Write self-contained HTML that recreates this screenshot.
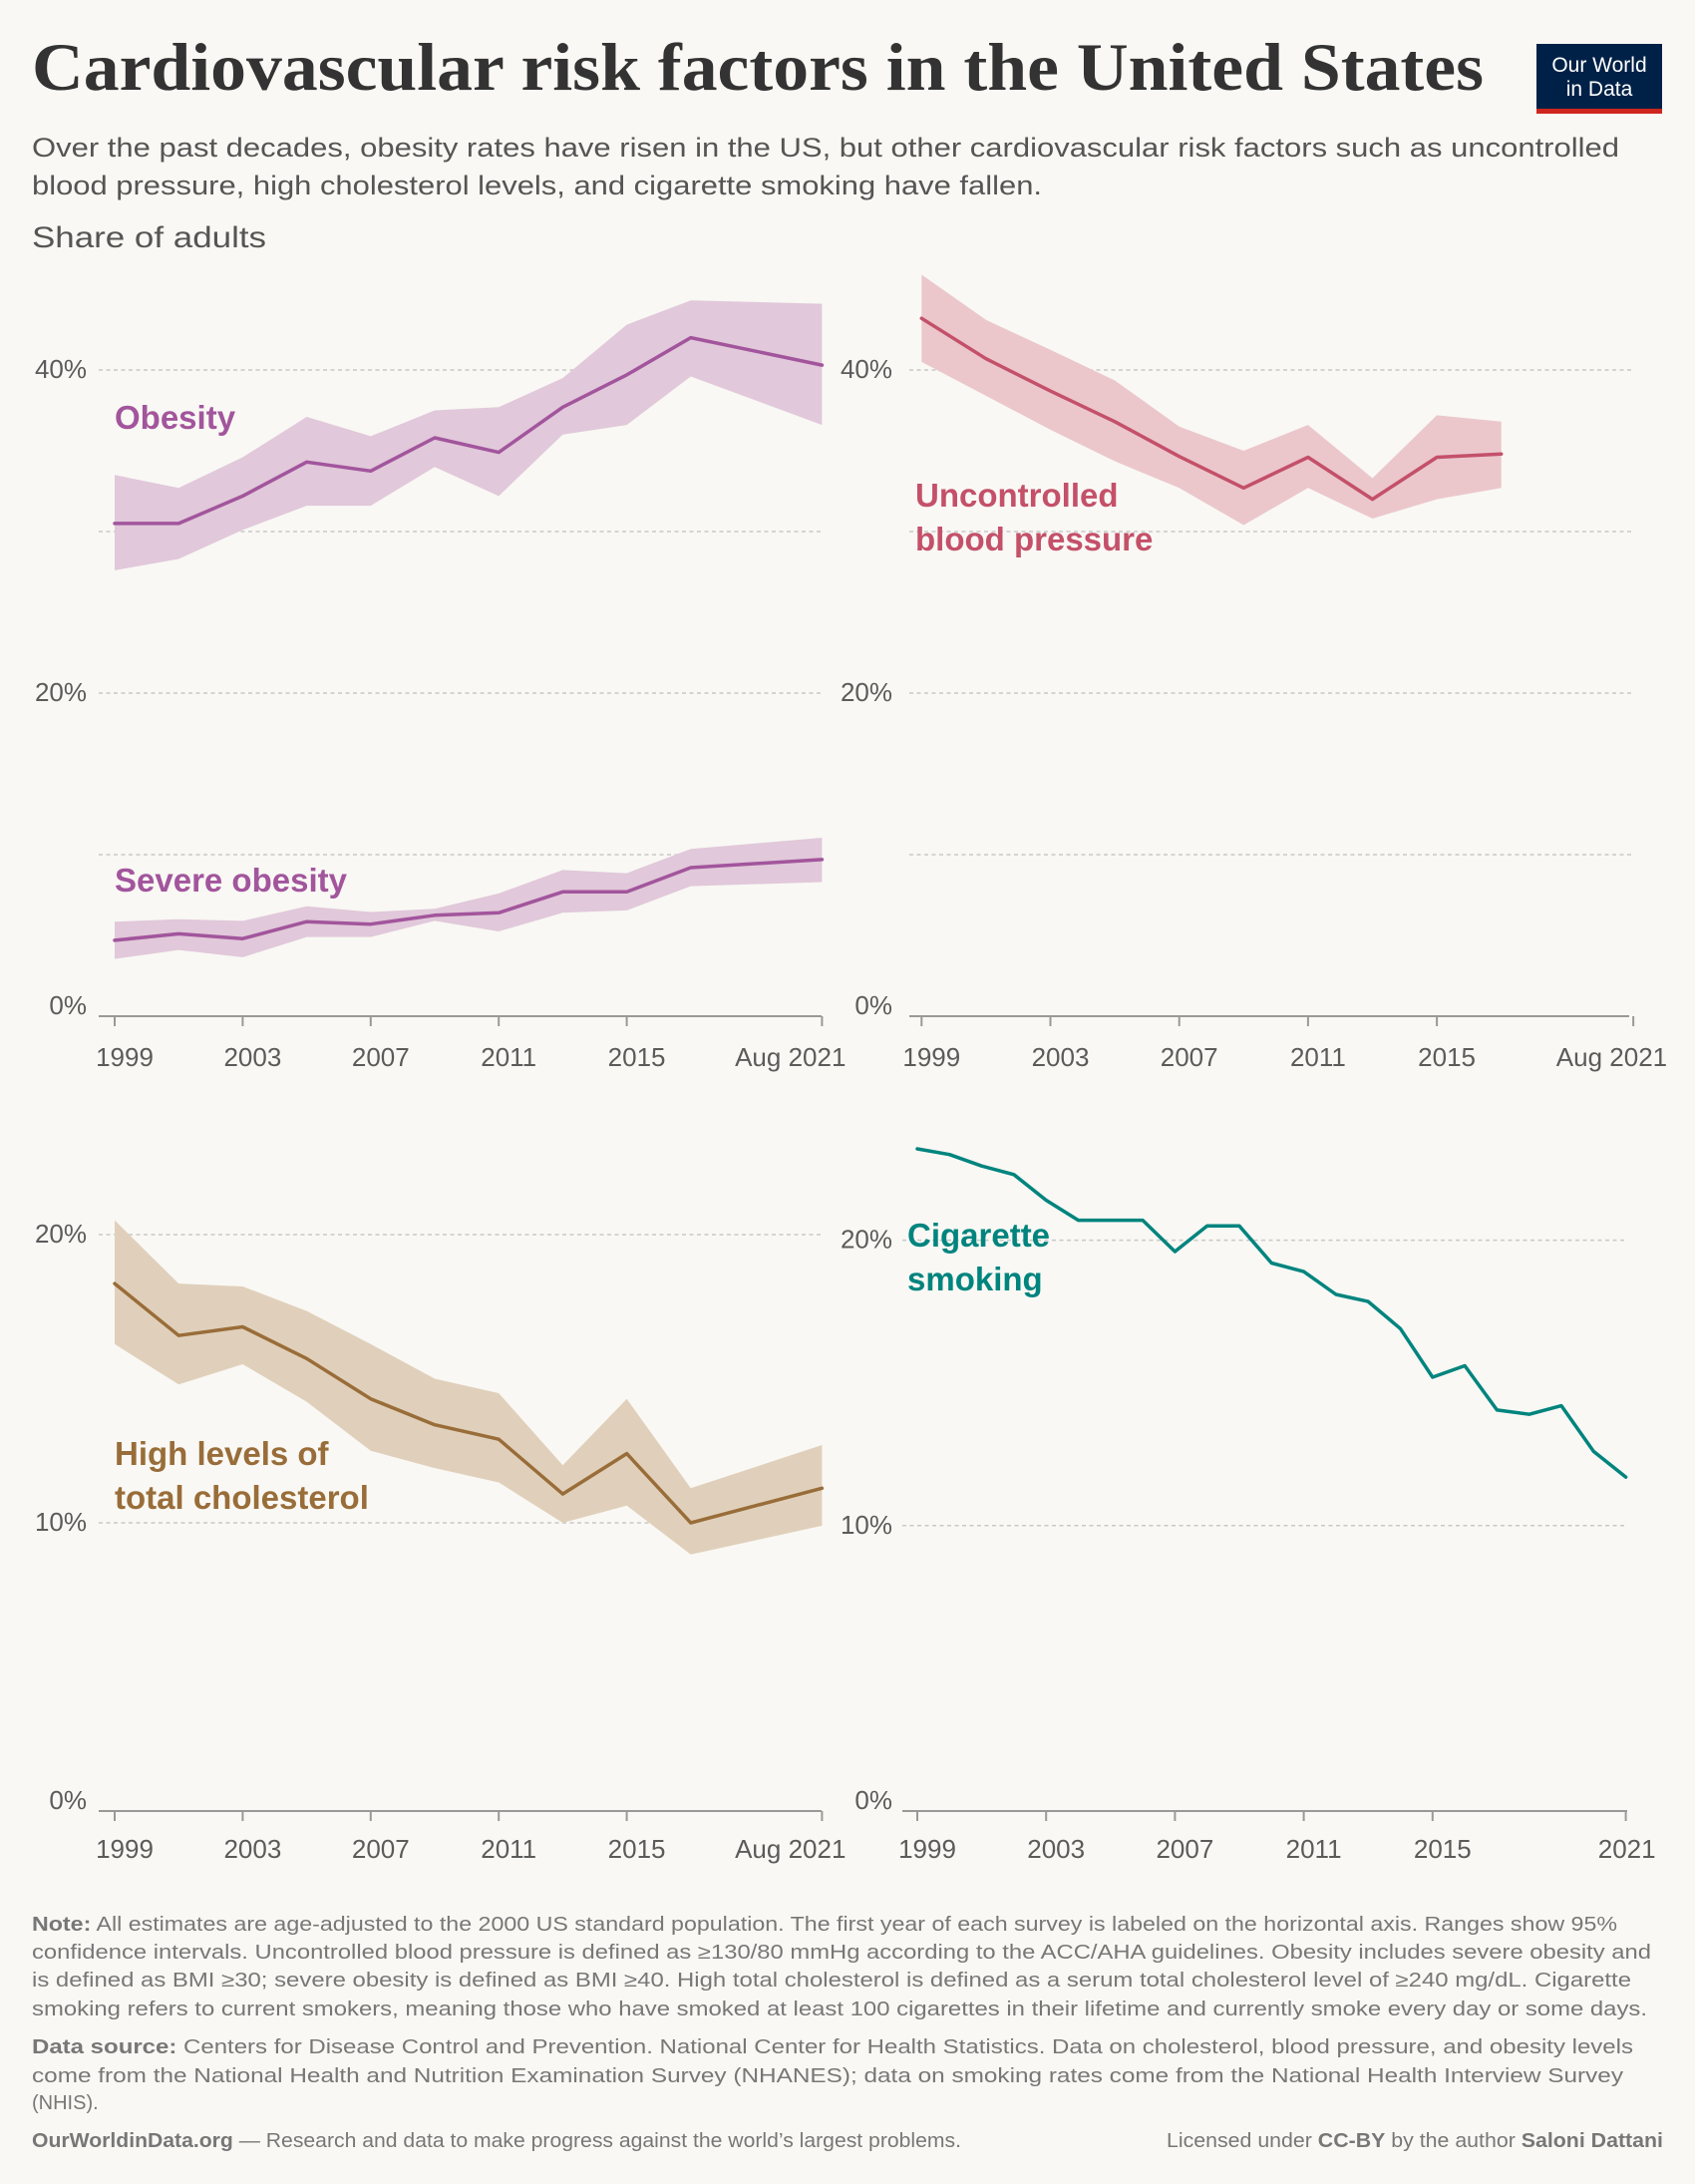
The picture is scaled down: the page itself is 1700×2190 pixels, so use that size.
<!DOCTYPE html>
<html><head><meta charset="utf-8">
<style>
html,body{margin:0;padding:0;background:#f9f8f4;}
svg{display:block;font-family:"Liberation Sans",sans-serif;}
</style></head>
<body>
<svg id="chart" width="1700" height="2190" viewBox="0 0 1700 2190" xmlns="http://www.w3.org/2000/svg">
<rect width="1700" height="2190" fill="#f9f8f4"/>
<text x="32" y="90" font-family="Liberation Serif, serif" font-weight="bold" font-size="68" fill="#333" textLength="1456" lengthAdjust="spacingAndGlyphs">Cardiovascular risk factors in the United States</text>
<g>
<rect x="1541" y="44" width="126" height="70" fill="#002147"/>
<rect x="1541" y="109" width="126" height="5" fill="#ce261e"/>
<text x="1604" y="72" text-anchor="middle" font-size="21" fill="#fff">Our World</text>
<text x="1604" y="96" text-anchor="middle" font-size="21" fill="#fff">in Data</text>
</g>
<text x="32" y="157" font-size="27" fill="#555" textLength="1592" lengthAdjust="spacingAndGlyphs">Over the past decades, obesity rates have risen in the US, but other cardiovascular risk factors such as uncontrolled</text>
<text x="32" y="195" font-size="27" fill="#555" textLength="1013" lengthAdjust="spacingAndGlyphs">blood pressure, high cholesterol levels, and cigarette smoking have fallen.</text>
<text x="32" y="248" font-size="30" fill="#555" textLength="235" lengthAdjust="spacingAndGlyphs">Share of adults</text>
<g id="plots"></g>
<g font-size="20" fill="#777">
<text x="32" y="1936" textLength="1590" lengthAdjust="spacingAndGlyphs"><tspan font-weight="bold">Note:</tspan> All estimates are age-adjusted to the 2000 US standard population. The first year of each survey is labeled on the horizontal axis. Ranges show 95%</text>
<text x="32" y="1964" textLength="1624" lengthAdjust="spacingAndGlyphs">confidence intervals. Uncontrolled blood pressure is defined as ≥130/80 mmHg according to the ACC/AHA guidelines. Obesity includes severe obesity and</text>
<text x="32" y="1992" textLength="1604" lengthAdjust="spacingAndGlyphs">is defined as BMI ≥30; severe obesity is defined as BMI ≥40. High total cholesterol is defined as a serum total cholesterol level of ≥240 mg/dL. Cigarette</text>
<text x="32" y="2021" textLength="1620" lengthAdjust="spacingAndGlyphs">smoking refers to current smokers, meaning those who have smoked at least 100 cigarettes in their lifetime and currently smoke every day or some days.</text>
<text x="32" y="2059" textLength="1606" lengthAdjust="spacingAndGlyphs"><tspan font-weight="bold">Data source:</tspan> Centers for Disease Control and Prevention. National Center for Health Statistics. Data on cholesterol, blood pressure, and obesity levels</text>
<text x="32" y="2088" textLength="1596" lengthAdjust="spacingAndGlyphs">come from the National Health and Nutrition Examination Survey (NHANES); data on smoking rates come from the National Health Interview Survey</text>
<text x="32" y="2115">(NHIS).</text>
<text x="32" y="2153" textLength="932" lengthAdjust="spacingAndGlyphs"><tspan font-weight="bold">OurWorldinData.org</tspan> — Research and data to make progress against the world’s largest problems.</text>
<text x="1668" y="2153" text-anchor="end" textLength="498" lengthAdjust="spacingAndGlyphs">Licensed under <tspan font-weight="bold">CC-BY</tspan> by the author <tspan font-weight="bold">Saloni Dattani</tspan></text>
</g>
</svg>
<script>
// ---- data ----
const surveyYears = [1999,2001,2003,2005,2007,2009,2011,2013,2015,2017,2021.1];
const obesity = [30.5,30.5,32.2,34.3,33.75,35.8,34.9,37.7,39.7,42.0,40.3];
const obesityHi = [33.5,32.7,34.6,37.1,35.9,37.5,37.7,39.5,42.8,44.3,44.1];
const obesityLo = [27.6,28.3,30.1,31.6,31.6,34.0,32.2,36.0,36.6,39.6,36.6];
const severe = [4.7,5.1,4.8,5.85,5.7,6.25,6.4,7.7,7.7,9.2,9.7];
const severeHi = [5.85,6.0,5.9,6.8,6.45,6.65,7.6,9.05,8.85,10.35,11.05];
const severeLo = [3.55,4.1,3.65,4.9,4.9,5.9,5.25,6.4,6.55,8.05,8.3];
const bpYears = [1999,2001,2003,2005,2007,2009,2011,2013,2015,2017];
const bp = [43.2,40.7,38.7,36.8,34.65,32.7,34.6,32.0,34.6,34.8];
const bpHi = [45.9,43.1,41.25,39.35,36.5,35.0,36.6,33.3,37.2,36.8];
const bpLo = [40.5,38.4,36.3,34.35,32.7,30.4,32.7,30.8,32.0,32.7];
const chol = [18.3,16.5,16.8,15.7,14.3,13.4,12.9,11.0,12.4,10.0,11.2];
const cholHi = [20.5,18.3,18.2,17.35,16.2,15.0,14.5,12.0,14.3,11.2,12.7];
const cholLo = [16.2,14.8,15.5,14.2,12.5,11.9,11.4,10.0,10.6,8.9,9.9];
const smokeYears = [1999,2000,2001,2002,2003,2004,2005,2006,2007,2008,2009,2010,2011,2012,2013,2014,2015,2016,2017,2018,2019,2020,2021];
const smoke = [23.2,23.0,22.6,22.3,21.4,20.7,20.7,20.7,19.6,20.5,20.5,19.2,18.9,18.1,17.85,16.9,15.2,15.6,14.05,13.9,14.2,12.6,11.7];
const tickYears = [1999,2003,2007,2011,2015];
const topTicks = [0,20,40];
const topGrid = [10,30];
const bottomTicks = [0,10,20];

const NS = "http://www.w3.org/2000/svg";
const root = document.getElementById('plots');
function mk(tag, attrs, parent){
  const e = document.createElementNS(NS, tag);
  for (const k in attrs) e.setAttribute(k, attrs[k]);
  (parent||root).appendChild(e);
  return e;
}
function panel(o){
  const g = mk('g', {});
  
  
  const x = v => o.x0 + (v - 1999) * o.px;
  const y = v => o.y0 - v * o.py;
  o.x = x; o.y = y;
  o.grid.forEach(v => {
    const l = mk('line', {x1:o.gx0, x2:o.gx1, y1:y(v), y2:y(v), stroke:'#c8c8c8', 'stroke-width':1.5, 'stroke-dasharray':'4,3.5'}, g);
    
    
  });
  o.ticks.forEach(v => {
    if (v > 0) {
      const l = mk('line', {x1:o.gx0, x2:o.gx1, y1:y(v), y2:y(v), stroke:'#c8c8c8', 'stroke-width':1.5, 'stroke-dasharray':'4,3.5'}, g);
      
      
    }
    const t = mk('text', {x:o.labX, y:y(v) + (v>0 ? 8 : -2), 'text-anchor':'end', 'font-size':26, fill:'#5b5b5b'}, g);
    t.textContent = v + '%';
    
    
  });
  const ax = mk('line', {x1:o.gx0, x2:o.axEnd, y1:o.y0, y2:o.y0, stroke:'#999', 'stroke-width':2}, g);
  
  
  const tks = tickYears.concat([o.lastTick]);
  tks.forEach((yr, i) => {
    const tk = mk('line', {x1:x(yr), x2:x(yr), y1:o.y0, y2:o.y0+10, stroke:'#999', 'stroke-width':2}, g);
    
    
    const last = i === tks.length - 1;
    const t = mk('text', {x: last ? x(yr) + o.lastDx : x(yr) + 10, y:o.y0 + o.labDy, 'text-anchor': last ? 'end' : 'middle', 'font-size':26, fill:'#5b5b5b'}, g);
    t.textContent = last ? o.lastLabel : String(yr);
    
    
  });
  return g;
}
function band(o, g, xs, hi, lo, fill, name){
  let d = xs.map((v,i) => (i?'L':'M') + o.x(v).toFixed(1) + ' ' + o.y(hi[i]).toFixed(1)).join(' ');
  for (let i = xs.length-1; i >= 0; i--) d += ' L' + o.x(xs[i]).toFixed(1) + ' ' + o.y(lo[i]).toFixed(1);
  const p = mk('path', {d: d + ' Z', fill: fill}, g);
  
  
}
function line(o, g, xs, vals, color, name){
  const d = xs.map((v,i) => (i?'L':'M') + o.x(v).toFixed(1) + ' ' + o.y(vals[i]).toFixed(1)).join(' ');
  const p = mk('path', {d: d, fill:'none', stroke:color, 'stroke-width':3.5, 'stroke-linejoin':'round', 'stroke-linecap':'round'}, g);
  
  
}
function label(g, x, y, lines, color, name){
  lines.forEach((s, i) => {
    const t = mk('text', {x:x, y:y + i*44, 'font-size':33, 'font-weight':'bold', fill:color}, g);
    t.textContent = s;
    
    
  });
}

const p1 = {name:'obesity-panel', x0:115, px:32.1, y0:1019, py:16.2, gx0:99, gx1:826, axEnd:824, labX:87, labDy:50, ticks:topTicks, grid:topGrid, lastTick:2021.1, lastLabel:'Aug 2021', lastDx:24};
const g1 = panel(p1);
band(p1, g1, surveyYears, obesityHi, obesityLo, '#e1c8da', 'obesity-ci-band');
band(p1, g1, surveyYears, severeHi, severeLo, '#e1c8da', 'severe-obesity-ci-band');
line(p1, g1, surveyYears, obesity, '#a2559c', 'obesity-line');
line(p1, g1, surveyYears, severe, '#a2559c', 'severe-obesity-line');
label(g1, 115, 430, ['Obesity'], '#a2559c', 'obesity-label');
label(g1, 115, 894, ['Severe obesity'], '#a2559c', 'severe-obesity-label');

const p2 = {name:'blood-pressure-panel', x0:924.3, px:32.3, y0:1019, py:16.2, gx0:912, gx1:1638, axEnd:1634, labX:895, labDy:50, ticks:topTicks, grid:topGrid, lastTick:2021.1, lastLabel:'Aug 2021', lastDx:34};
const g2 = panel(p2);
band(p2, g2, bpYears, bpHi, bpLo, '#ebc7cc', 'blood-pressure-ci-band');
line(p2, g2, bpYears, bp, '#c4506a', 'blood-pressure-line');
label(g2, 918, 508, ['Uncontrolled','blood pressure'], '#c4506a', 'blood-pressure-label');

const p3 = {name:'cholesterol-panel', x0:115, px:32.1, y0:1816, py:28.9, gx0:99, gx1:826, axEnd:824, labX:87, labDy:47, ticks:bottomTicks, grid:[], lastTick:2021.1, lastLabel:'Aug 2021', lastDx:24};
const g3 = panel(p3);
band(p3, g3, surveyYears, cholHi, cholLo, '#e0d0bb', 'cholesterol-ci-band');
line(p3, g3, surveyYears, chol, '#996d39', 'cholesterol-line');
label(g3, 115, 1469, ['High levels of','total cholesterol'], '#996d39', 'cholesterol-label');

const p4 = {name:'smoking-panel', x0:920, px:32.3, y0:1816, py:28.62, gx0:905, gx1:1632, axEnd:1632, labX:895, labDy:47, ticks:bottomTicks, grid:[], lastTick:2021, lastLabel:'2021', lastDx:30};
const g4 = panel(p4);
line(p4, g4, smokeYears, smoke, '#00847e', 'smoking-line');
label(g4, 910, 1250, ['Cigarette','smoking'], '#00847e', 'smoking-label');
</script>
</body></html>
